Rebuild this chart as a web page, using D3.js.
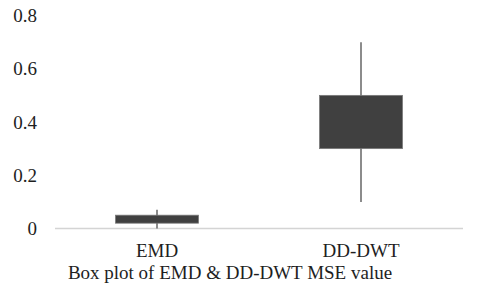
<!DOCTYPE html>
<html>
<head>
<meta charset="utf-8">
<script src="https://cdn.jsdelivr.net/npm/d3@7"></script>
<style>
  body { margin: 0; background: #fff; }
  text { font-family: "Liberation Serif", "Times New Roman", serif; fill: #1e1e1e; }
</style>
</head>
<body>
<div id="chart"></div>
<script>
// box plot values
var categories = ["EMD", "DD-DWT"];
var whiskerLow = [0.0, 0.1];
var boxLow = [0.02, 0.3];
var boxHigh = [0.05, 0.5];
var whiskerHigh = [0.07, 0.7];
var yTicks = [0, 0.2, 0.4, 0.6, 0.8];
var caption = "Box plot of EMD & DD-DWT MSE value";

var width = 480, height = 291;

var svg = d3.select("#chart").append("svg")
    .attr("width", width)
    .attr("height", height);

var x = d3.scaleBand()
    .domain(categories)
    .range([55, 463])
    .paddingInner(0)
    .paddingOuter(0);

var y = d3.scaleLinear()
    .domain([0, 0.8])
    .range([228.5, 15.5]);

// y tick labels, no axis line
svg.append("g")
    .selectAll("text")
    .data(yTicks)
    .enter()
    .append("text")
    .attr("x", 37)
    .attr("y", function(d){ return y(d); })
    .attr("dy", "0.35em")
    .attr("text-anchor", "end")
    .style("font-size", "19px")
    .text(function(d){ return d === 0 ? "0" : d3.format(".1f")(d); });

// baseline
svg.append("line")
    .attr("x1", x.range()[0])
    .attr("x2", x.range()[1])
    .attr("y1", y(0))
    .attr("y2", y(0))
    .style("stroke", "#d4d4d4")
    .style("stroke-width", 1.5);

var boxW = 83;
var boxes = svg.append("g").selectAll("g")
    .data(categories)
    .enter()
    .append("g");

// whiskers
boxes.append("line")
    .attr("x1", function(d){ return x(d) + x.bandwidth() / 2; })
    .attr("x2", function(d){ return x(d) + x.bandwidth() / 2; })
    .attr("y1", function(d, i){ return y(whiskerLow[i]); })
    .attr("y2", function(d, i){ return y(whiskerHigh[i]); })
    .style("stroke", "#666")
    .style("stroke-width", 1.5);

// boxes
boxes.append("rect")
    .attr("x", function(d){ return x(d) + x.bandwidth() / 2 - boxW / 2; })
    .attr("width", boxW)
    .attr("y", function(d, i){ return y(boxHigh[i]); })
    .attr("height", function(d, i){ return y(boxLow[i]) - y(boxHigh[i]); })
    .style("fill", "#404040")
    .style("stroke", "#7a7a7a")
    .style("stroke-width", 0.8);

// category labels
svg.append("g")
    .selectAll("text")
    .data(categories)
    .enter()
    .append("text")
    .attr("x", function(d){ return x(d) + x.bandwidth() / 2; })
    .attr("y", 257)
    .attr("text-anchor", "middle")
    .style("font-size", "19px")
    .text(function(d){ return d; });

// caption
svg.append("text")
    .attr("x", 230)
    .attr("y", 279)
    .attr("text-anchor", "middle")
    .style("font-size", "19px")
    .text(caption);
</script>
</body>
</html>
